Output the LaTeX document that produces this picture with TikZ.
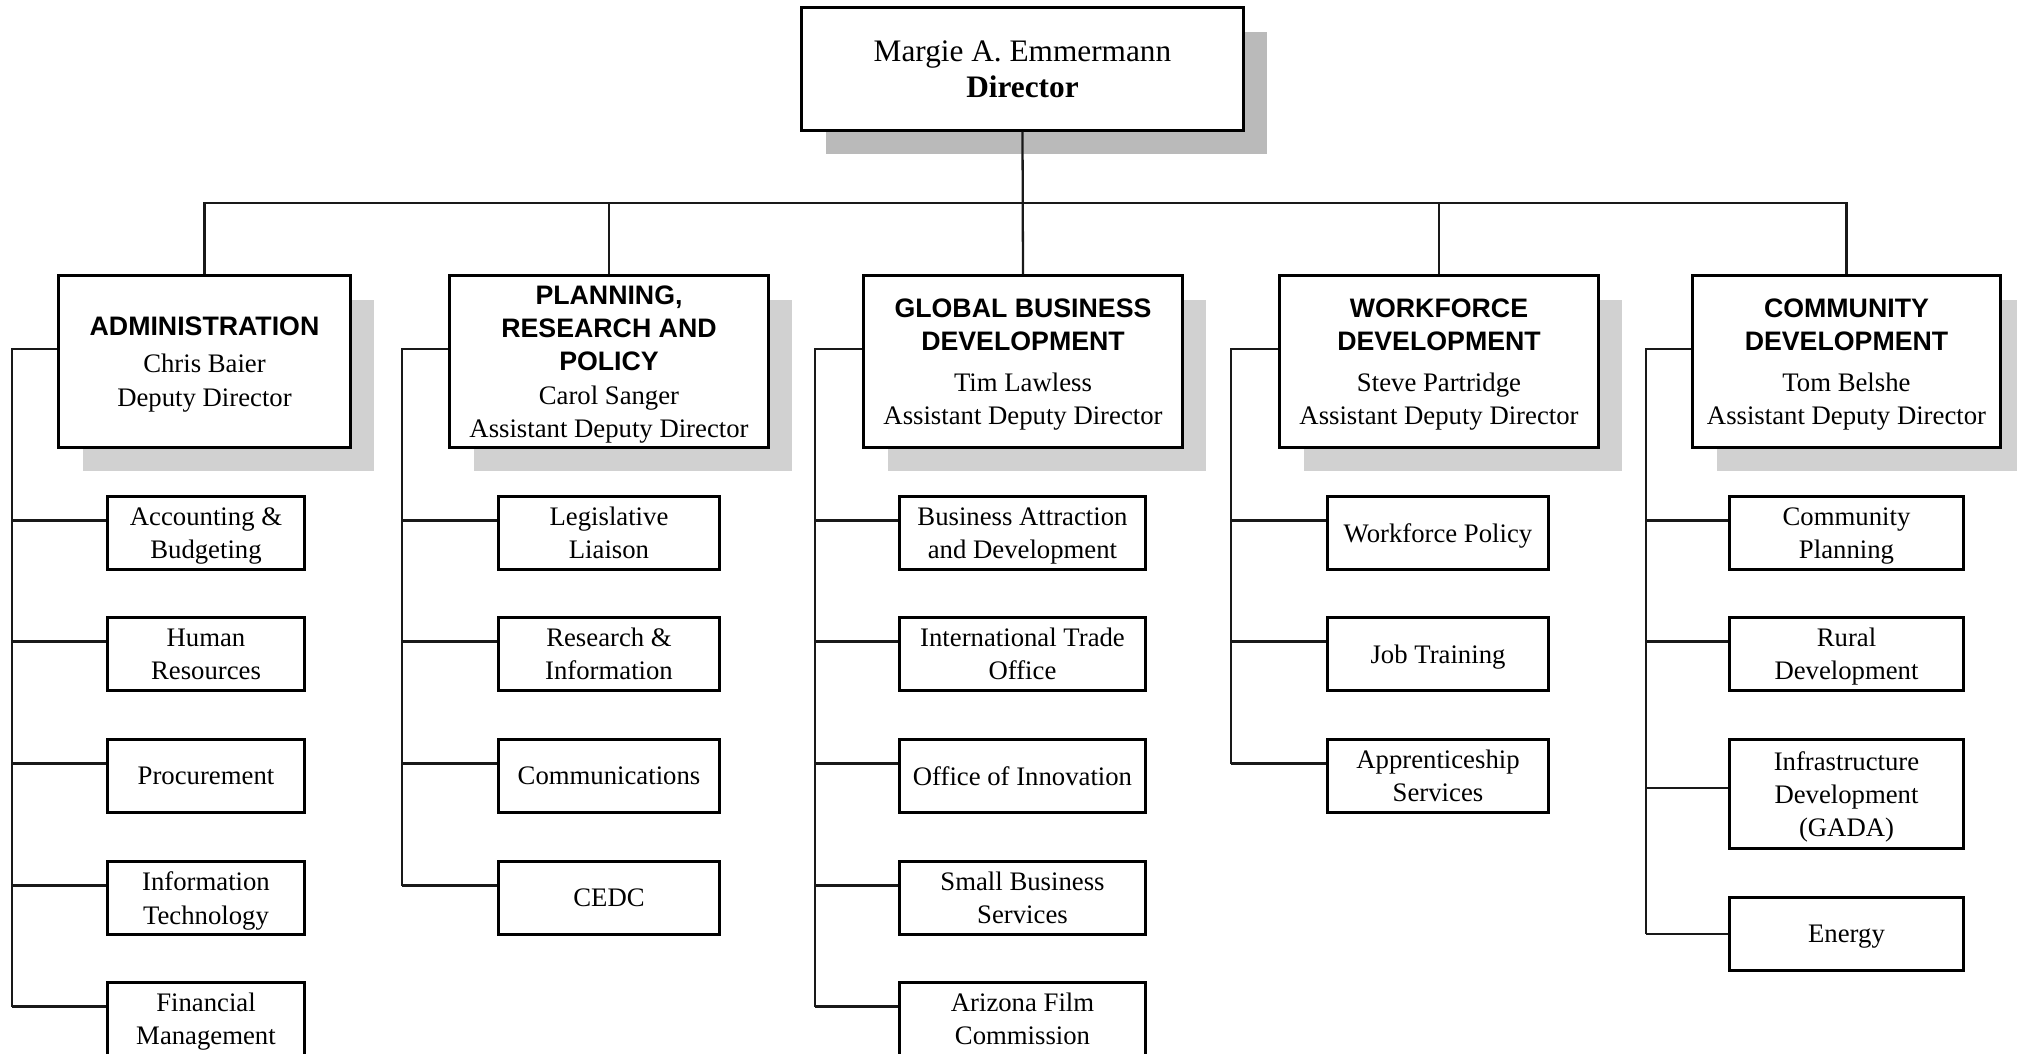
\documentclass[tikz,border=0pt]{standalone}
\usepackage{fontspec}
\setmainfont{Liberation Serif}
\newfontfamily\headfont{Liberation Sans}
\usetikzlibrary{shadows}

\newcommand{\dname}[1]{{\headfont\bfseries #1}}

\begin{document}
\begin{tikzpicture}[x=0.01cm, y=-0.01cm,
  orgbox/.style={draw, line width=0.85pt, fill=white, align=center, text depth=0pt,
    inner xsep=2pt, inner ysep=1pt, font=\fontsize{7.6}{9.5}\selectfont},
  boss/.style={orgbox, minimum width=4.41cm, minimum height=1.22cm,
    font=\fontsize{8.9}{10.3}\selectfont,
    drop shadow={shadow xshift=2.4mm, shadow yshift=-2.4mm, fill=black!27, opacity=1}},
  dept/.style={orgbox, minimum height=1.71cm,
    drop shadow={shadow xshift=2.4mm, shadow yshift=-2.4mm, fill=black!18, opacity=1}},
  office/.style={orgbox, minimum height=0.72cm},
  wire/.style={line width=0.65pt, black!90},
  lift/.style={yshift=1.25mm}
]
\useasboundingbox (0,0) rectangle (2017,1054);

% Director
\node[boss] (dir) at (1022.5,69) {Margie A. Emmermann\\\textbf{Director}};

% Divisions
\node[dept, minimum width=2.91cm] (adm) at (204.5,361.5)
  {\dname{ADMINISTRATION}\\[1pt]Chris Baier\\Deputy Director};
\node[dept, minimum width=3.18cm] (prp) at (609,361.5)
  {\dname{PLANNING,}\\\dname{RESEARCH AND}\\\dname{POLICY}\\Carol Sanger\\Assistant Deputy Director};
\node[dept, minimum width=3.18cm] (gbd) at (1023,361.5)
  {\dname{GLOBAL BUSINESS}\\\dname{DEVELOPMENT}\\[2pt]Tim Lawless\\Assistant Deputy Director};
\node[dept, minimum width=3.18cm] (wfd) at (1439,361.5)
  {\dname{WORKFORCE}\\\dname{DEVELOPMENT}\\[2pt]Steve Partridge\\Assistant Deputy Director};
\node[dept, minimum width=3.07cm] (cmd) at (1846.5,361.5)
  {\dname{COMMUNITY}\\\dname{DEVELOPMENT}\\[2pt]Tom Belshe\\Assistant Deputy Director};

% Administration offices
\node[office, minimum width=1.96cm] (acc)  at (206,533)  {Accounting \&\\Budgeting};
\node[office, minimum width=1.96cm] (hr)   at (206,654)  {Human\\Resources};
\node[office, minimum width=1.96cm] (proc) at (206,776)  {Procurement};
\node[office, minimum width=1.96cm] (it)   at (206,898)  {Information\\Technology};
\node[office, minimum width=1.96cm] (fin)  at (206,1019) {Financial\\Management};

% Planning, research and policy offices
\node[office, minimum width=2.2cm] (leg)  at (609,533) {Legislative\\Liaison};
\node[office, minimum width=2.2cm] (res)  at (609,654) {Research \&\\Information};
\node[office, minimum width=2.2cm] (comm) at (609,776) {Communications};
\node[office, minimum width=2.2cm] (cedc) at (609,898) {CEDC};

% Global business offices
\node[office, minimum width=2.45cm] (bad)  at (1022.5,533)  {Business Attraction\\and Development};
\node[office, minimum width=2.45cm] (ito)  at (1022.5,654)  {International Trade\\Office};
\node[office, minimum width=2.45cm] (inno) at (1022.5,776)  {Office of Innovation};
\node[office, minimum width=2.45cm] (sbs)  at (1022.5,898)  {Small Business\\Services};
\node[office, minimum width=2.45cm] (afc)  at (1022.5,1019) {Arizona Film\\Commission};

% Workforce offices
\node[office, minimum width=2.2cm] (wpol) at (1438,533) {Workforce Policy};
\node[office, minimum width=2.2cm] (job)  at (1438,654) {Job Training};
\node[office, minimum width=2.2cm] (app)  at (1438,776) {Apprenticeship\\Services};

% Community offices
\node[office, minimum width=2.33cm] (cpl)    at (1846.5,533) {Community\\Planning};
\node[office, minimum width=2.33cm] (rural)  at (1846.5,654) {Rural\\Development};
\node[office, minimum width=2.33cm, minimum height=1.08cm] (infra) at (1846.5,794)
  {Infrastructure\\Development\\(GADA)};
\node[office, minimum width=2.33cm] (energy) at (1846.5,934) {Energy};

% Director down to the bus
\coordinate (bus) at (1022.5,203);
\draw[wire] (dir.south) -- (gbd.north);
\draw[wire] (adm.north) |- (bus) -| (cmd.north);
\draw[wire] (prp.north) -- (prp.north |- bus);
\draw[wire] (wfd.north) -- (wfd.north |- bus);

% Branch spines (x only)
\coordinate (admx) at (12,0);
\coordinate (prpx) at (402,0);
\coordinate (gbdx) at (815,0);
\coordinate (wfdx) at (1231,0);
\coordinate (cmdx) at (1646,0);

% Administration branch
\draw[wire] ([lift]adm.west) -| ([lift]fin.west -| admx);
\draw[wire] ([lift]acc.west) -- ([lift]acc.west -| admx);
\draw[wire] ([lift]hr.west) -- ([lift]hr.west -| admx);
\draw[wire] ([lift]proc.west) -- ([lift]proc.west -| admx);
\draw[wire] ([lift]it.west) -- ([lift]it.west -| admx);
\draw[wire] ([lift]fin.west) -- ([lift]fin.west -| admx);

% Planning branch
\draw[wire] ([lift]prp.west) -| ([lift]cedc.west -| prpx);
\draw[wire] ([lift]leg.west) -- ([lift]leg.west -| prpx);
\draw[wire] ([lift]res.west) -- ([lift]res.west -| prpx);
\draw[wire] ([lift]comm.west) -- ([lift]comm.west -| prpx);
\draw[wire] ([lift]cedc.west) -- ([lift]cedc.west -| prpx);

% Global business branch
\draw[wire] ([lift]gbd.west) -| ([lift]afc.west -| gbdx);
\draw[wire] ([lift]bad.west) -- ([lift]bad.west -| gbdx);
\draw[wire] ([lift]ito.west) -- ([lift]ito.west -| gbdx);
\draw[wire] ([lift]inno.west) -- ([lift]inno.west -| gbdx);
\draw[wire] ([lift]sbs.west) -- ([lift]sbs.west -| gbdx);
\draw[wire] ([lift]afc.west) -- ([lift]afc.west -| gbdx);

% Workforce branch
\draw[wire] ([lift]wfd.west) -| ([lift]app.west -| wfdx);
\draw[wire] ([lift]wpol.west) -- ([lift]wpol.west -| wfdx);
\draw[wire] ([lift]job.west) -- ([lift]job.west -| wfdx);
\draw[wire] ([lift]app.west) -- ([lift]app.west -| wfdx);

% Community branch
\draw[wire] ([lift]cmd.west) -| (energy.west -| cmdx);
\draw[wire] ([lift]cpl.west) -- ([lift]cpl.west -| cmdx);
\draw[wire] ([lift]rural.west) -- ([lift]rural.west -| cmdx);
\draw[wire] ([yshift=0.6mm]infra.west) -- ([yshift=0.6mm]infra.west -| cmdx);
\draw[wire] (energy.west) -- (energy.west -| cmdx);

\end{tikzpicture}
\end{document}
